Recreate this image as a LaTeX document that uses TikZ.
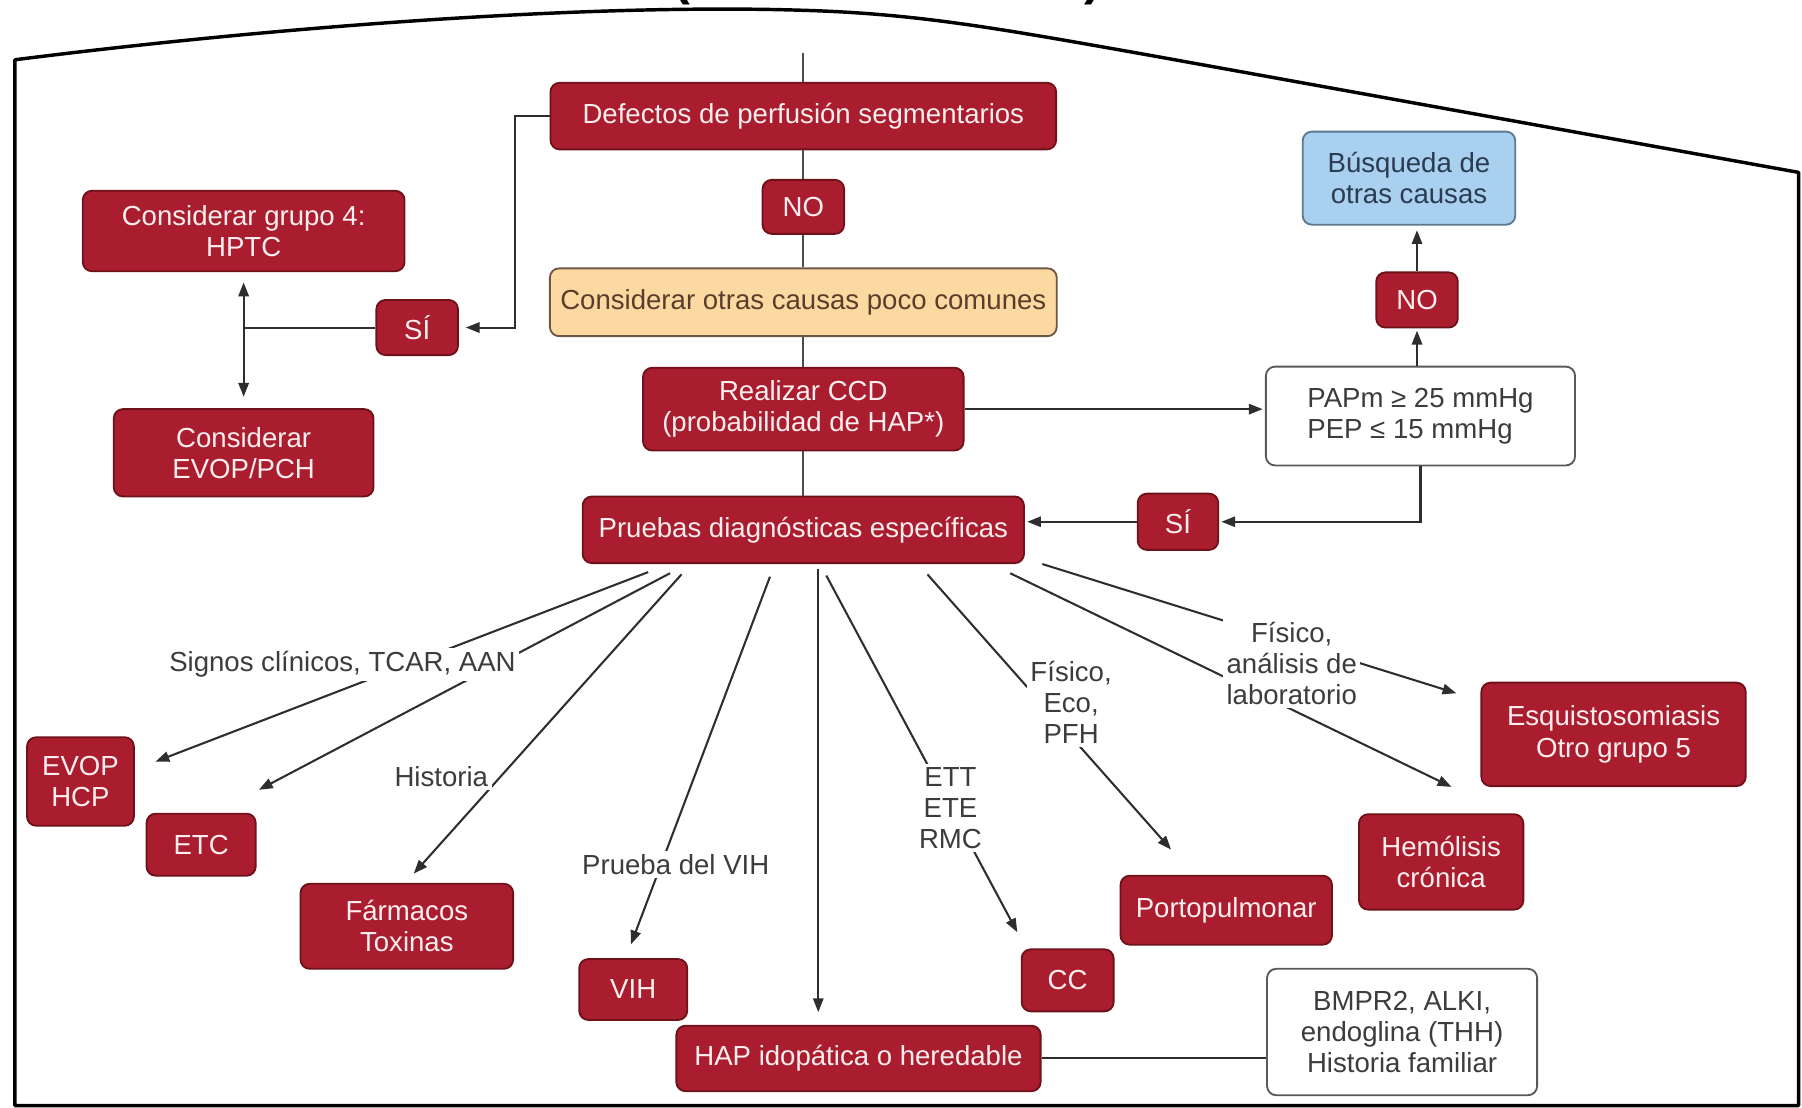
\documentclass[tikz,border=0pt]{standalone}
\usepackage{fontspec}
\setmainfont{Liberation Sans}
\usetikzlibrary{arrows.meta,calc}

\definecolor{boxred}{HTML}{A91D2E}
\definecolor{boxedge}{HTML}{6E1119}
\definecolor{boxtext}{HTML}{FCEDEE}
\definecolor{ambar}{HTML}{FDD9A2}
\definecolor{ambaredge}{HTML}{6B5846}
\definecolor{ambartext}{HTML}{5A3E2C}
\definecolor{celeste}{HTML}{A9D0EE}
\definecolor{celesteedge}{HTML}{5B7A92}
\definecolor{celestetext}{HTML}{2B3B52}
\definecolor{linegray}{HTML}{2E2E2E}
\definecolor{labelgray}{HTML}{3C3C3C}

\tikzset{
  boxbase/.style={rounded corners=4pt, align=center, inner sep=0pt,
    line width=0.8pt, font=\fontsize{12}{13.5}\selectfont},
  redbox/.style={boxbase, draw=boxedge, fill=boxred, text=boxtext},
  ambarbox/.style={boxbase, draw=ambaredge, fill=ambar, text=ambartext},
  bluebox/.style={boxbase, draw=celesteedge, fill=celeste, text=celestetext},
  whitebox/.style={boxbase, draw=gray!70!black, fill=white, text=labelgray},
  lbl/.style={fill=white, inner sep=1.5pt, align=center, text=labelgray,
    font=\fontsize{12}{13.5}\selectfont},
  conn/.style={draw=linegray, line width=0.9pt},
  arr/.style={conn, -{Triangle[length=6pt,width=4.5pt]}},
  trunk/.style={draw=gray!60!black, line width=0.8pt},
}

\begin{document}
\begin{tikzpicture}[x=0.5pt,y=-0.5pt]
  \useasboundingbox (0,0) rectangle (1568,964);
  % marco
  \draw[line width=1.5pt, line join=round] (13,962) -- (13,52)
    .. controls (250,22) and (520,3) .. (700,9)
    .. controls (800,12) and (870,25) .. (1000,48)
    -- (1565,150) -- (1565,962) -- cycle;
  \node[font=\bfseries\fontsize{22}{22}\selectfont, anchor=south, inner sep=0pt]
    (parl) at (593,5) {(};
  \node[font=\bfseries\fontsize{22}{22}\selectfont, anchor=south, inner sep=0pt]
    (parr) at (951,5) {)};

  % columna central
  \node[redbox, minimum width=220pt, minimum height=29pt] (defectos) at (699,101)
    {Defectos de perfusión segmentarios};
  \node[redbox, minimum width=35.5pt, minimum height=23.5pt] (no1) at (699,180) {NO};
  \node[ambarbox, minimum width=220.5pt, minimum height=29.5pt] (otras) at (699,263)
    {Considerar otras causas poco comunes};
  \node[redbox, minimum width=139.5pt, minimum height=36pt] (ccd) at (699,356)
    {Realizar CCD\\(probabilidad de HAP*)};
  \node[redbox, minimum width=192pt, minimum height=29pt] (pruebas) at (699,461)
    {Pruebas diagnósticas específicas};

  % rama izquierda
  \node[redbox, minimum width=140pt, minimum height=35pt] (grupo4) at (212,201)
    {Considerar grupo 4:\\HPTC};
  \node[redbox, minimum width=35.5pt, minimum height=24pt] (si1) at (363,285) {SÍ};
  \node[redbox, minimum width=113pt, minimum height=38pt] (evoppch) at (212,394)
    {Considerar\\EVOP/PCH};

  % rama derecha
  \node[bluebox, minimum width=92.5pt, minimum height=40.5pt] (busq) at (1226,155)
    {Búsqueda de\\otras causas};
  \node[redbox, minimum width=35.5pt, minimum height=24pt] (no2) at (1233,261) {NO};
  \node[whitebox, minimum width=134.5pt, minimum height=43pt, align=left] (papm) at (1236,362)
    {PAPm ≥ 25 mmHg\\PEP ≤ 15 mmHg};
  \node[redbox, minimum width=35pt, minimum height=24.5pt] (si2) at (1025,454) {SÍ};

  % diagnosticos
  \node[redbox, minimum width=46.5pt, minimum height=38.5pt] (evophcp) at (70,680)
    {EVOP\\HCP};
  \node[redbox, minimum width=47.5pt, minimum height=27pt] (etc) at (175,735) {ETC};
  \node[redbox, minimum width=92.5pt, minimum height=37pt] (farmacos) at (354,806)
    {Fármacos\\Toxinas};
  \node[redbox, minimum width=47pt, minimum height=26.5pt] (vih) at (551,861) {VIH};
  \node[redbox, minimum width=158.5pt, minimum height=28.5pt] (hap) at (747,921)
    {HAP idopática o heredable};
  \node[redbox, minimum width=40pt, minimum height=27pt] (cc) at (929,853) {CC};
  \node[redbox, minimum width=92pt, minimum height=30pt] (porto) at (1067,792)
    {Portopulmonar};
  \node[redbox, minimum width=71.5pt, minimum height=41.5pt] (hemolisis) at (1254,750)
    {Hemólisis\\crónica};
  \node[redbox, minimum width=115pt, minimum height=45pt] (esquisto) at (1404,639)
    {Esquistosomiasis\\Otro grupo 5};
  \node[whitebox, minimum width=117.5pt, minimum height=55pt] (bmpr) at (1220,898)
    {BMPR2, ALKI,\\endoglina (THH)\\Historia familiar};

  % tronco
  \coordinate (top) at (699,46);
  \draw[trunk] (top) -- (defectos.north);
  \draw[trunk] (defectos) -- (no1);
  \draw[trunk] (no1) -- (otras);
  \draw[trunk] (otras) -- (ccd);
  \draw[trunk] (ccd) -- (pruebas);

  % conexiones
  \draw[arr, shorten >=3pt] (defectos.west) -- ++(-30,0) |- (si1.east);
  \draw[conn] (si1.west) -- (si1.west -| grupo4.south);
  \draw[conn, {Triangle[length=6pt,width=4.5pt]}-{Triangle[length=6pt,width=4.5pt]},
    shorten <=4.5pt, shorten >=5pt] (grupo4.south) -- (evoppch.north);
  \draw[arr, shorten >=1pt] (ccd.east) -- (ccd.east -| papm.west);
  \draw[arr, shorten >=1pt] (papm.north -| no2.south) -- (no2.south);
  \draw[arr, shorten >=2pt] (no2.north) -- (no2.north |- busq.south);
  \draw[arr, shorten >=1pt] (papm.south) |- (si2.east);
  \draw[arr, shorten >=1pt] (si2.west) -- (si2.west -| pruebas.east);
  \draw[conn] (hap.east) -- (hap.east -| bmpr.west);

  % abanico de pruebas
  \draw[arr] ($(pruebas.south)+(-135,7)$) -- ($(evophcp.north east)+(18,22)$);
  \draw[arr] ($(pruebas.south)+(-116,8)$) -- ($(etc.north east)+(2,-20)$);
  \draw[arr] ($(pruebas.south)+(-106,9)$) -- ($(farmacos.north)+(6,-8)$);
  \draw[arr] ($(pruebas.south)+(-29,11)$) -- ($(vih.north)+(-2,-12)$);
  \coordinate (e0) at ($(pruebas.south)+(13,4)$);
  \draw[arr, shorten >=5.5pt] (e0) -- (e0 |- hap.north);
  \draw[arr] ($(pruebas.south)+(20,10)$) -- ($(cc.north west)+(-3,-14)$);
  \draw[arr] ($(pruebas.south)+(108,9)$) -- ($(porto.north)+(-48,-22)$);
  \draw[arr] ($(pruebas.south)+(180,8)$) -- ($(hemolisis.north)+(9,-23)$);
  \draw[arr] ($(pruebas.south)+(208,0)$) -- ($(esquisto.north west)+(-21,10)$);

  % etiquetas
  \node[lbl] (lsignos) at (298,578) {Signos clínicos, TCAR, AAN};
  \node[lbl] (lhist) at (384,676) {Historia};
  \node[lbl] (lvih) at (588,752) {Prueba del VIH};
  \node[lbl] (lett) at (827,703) {ETT\\ETE\\RMC};
  \node[lbl] (leco) at (932,611) {Físico,\\Eco,\\PFH};
  \node[lbl] (llab) at (1124,577) {Físico,\\análisis de\\laboratorio};
\end{tikzpicture}
\end{document}
